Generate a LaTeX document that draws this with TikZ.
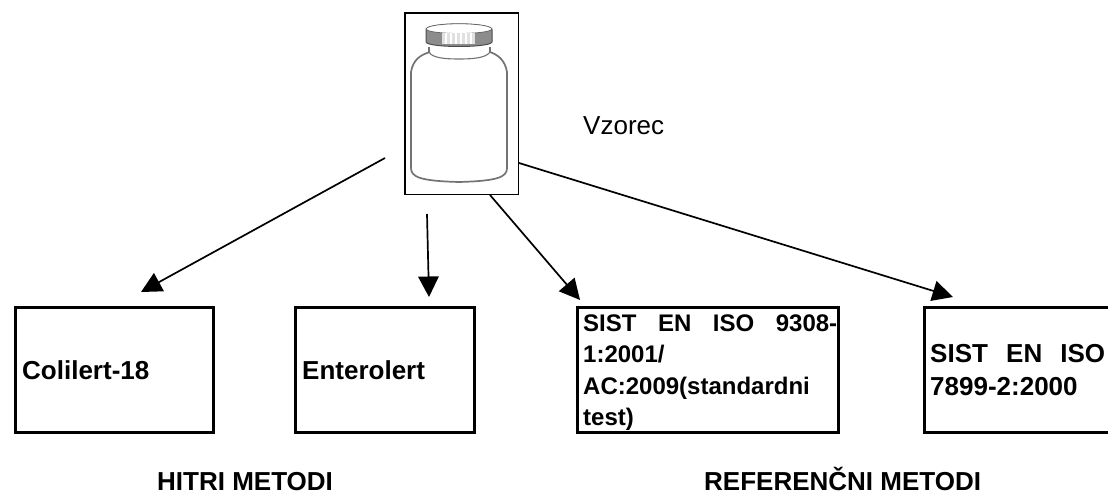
\documentclass[tikz,border=0pt]{standalone}
\usepackage{fontspec}
\setmainfont{Liberation Sans}
\usetikzlibrary{arrows.meta}
\tikzset{x=1pt,y=-1pt,
 mbox/.style={draw=black,line width=3pt,minimum width=#1,minimum height=125pt,inner sep=0pt,outer sep=0pt,anchor=north west},
 lbl/.style={font=\fontsize{26}{33}\selectfont\bfseries,align=left,inner sep=0pt,anchor=base west},
 lblsmall/.style={font=\fontsize{24}{31.3}\selectfont\bfseries,align=left,inner sep=0pt,anchor=north west},
 plain/.style={font=\fontsize{26}{30}\selectfont,inner sep=0pt,anchor=base west},
 conn/.style={draw=black,line width=1.7pt,-{Triangle[length=20.5pt,width=20.5pt]}},
 jar/.style={draw=black!55,line width=1.7pt},
 jarthin/.style={draw=black!55,line width=1.1pt}}
\begin{document}
\begin{tikzpicture}
\useasboundingbox (0,0) rectangle (1108,494);
\node[draw=black,line width=1.5pt,minimum width=113.5pt,minimum height=181.5pt,inner sep=0pt,outer sep=0pt,anchor=north west] (sample) at (404.75,13) {};
% jar
\path[jar,fill=white] (430,52) .. controls (420,55) and (413,60) .. (411,72) -- (411,168) .. controls (411,177) and (420,181) .. (459,182) .. controls (498,181) and (507,177) .. (507,168) -- (507,72) .. controls (505,60) and (498,55) .. (490,52);
\path[jarthin] (429,52) .. controls (432,58) and (445,59) .. (459,59) .. controls (473,59) and (486,58) .. (490,52);
\path[jarthin] (429,47) -- (429,53) (490,47) -- (490,53);
\path[draw=black!70,line width=1pt,fill=black!45] (426,30) -- (426,42) .. controls (428,48) and (490,48) .. (492,42) -- (492,30) .. controls (490,22) and (428,22) .. (426,30) -- cycle;
\path[fill=white,draw=black!60,line width=.8pt] (426,29) .. controls (428,35) and (490,35) .. (492,29) .. controls (490,22) and (428,22) .. (426,29) -- cycle;
\path[fill=black!12] (442,33) rectangle (475,44);
\foreach \xx in {446,451,456,461,466,471}{\path[draw=white,line width=1.6pt] (\xx,33.5) -- (\xx,44);}
% boxes
\node[mbox=197.5pt] (colilert) at (15.5,307.5) {};
\node[mbox=178.5pt] (enterolert) at (295.5,307) {};
\node[mbox=261pt] (sist9308) at (577.5,307) {};
\node[mbox=200pt] (sist7899) at (924.7,307.5) {};
\coordinate (sist7899n) at (953,297);
\node[lbl] (t1) at (22,379) {Colilert-18};
\node[lbl] (t2) at (302,379) {Enterolert};
\node[lblsmall] (t3) at (583,314.5) {\hbox to 254pt{SIST\hfill EN\hfill ISO\hfill 9308-}\\1:2001/\\AC:2009(standardni\\test)};
\node[lbl,anchor=north west] (t4) at (930,344) {\hbox to 175pt{SIST\hfill EN\hfill ISO}\\7899-2:2000};
\node[plain] (vz) at (583,135) {Vzorec};
\node[lbl] (hitri) at (157,490) {HITRI METODI};
\node[lbl] (ref) at (704,490) {REFERENČNI METODI};
% connectors
\coordinate (a1) at (385,158);
\coordinate (b1) at (141,292);
\coordinate (a2) at (427,214);
\coordinate (b2) at (429,297);
\coordinate (a3) at (490,195);
\coordinate (b3) at (580,300);
\coordinate (a4) at (519,163);
\draw[conn] (a1) -- (b1);
\draw[conn] (a2) -- (b2);
\draw[conn] (a3) -- (b3);
\draw[conn] (a4) -- (sist7899n);
\end{tikzpicture}
\end{document}
